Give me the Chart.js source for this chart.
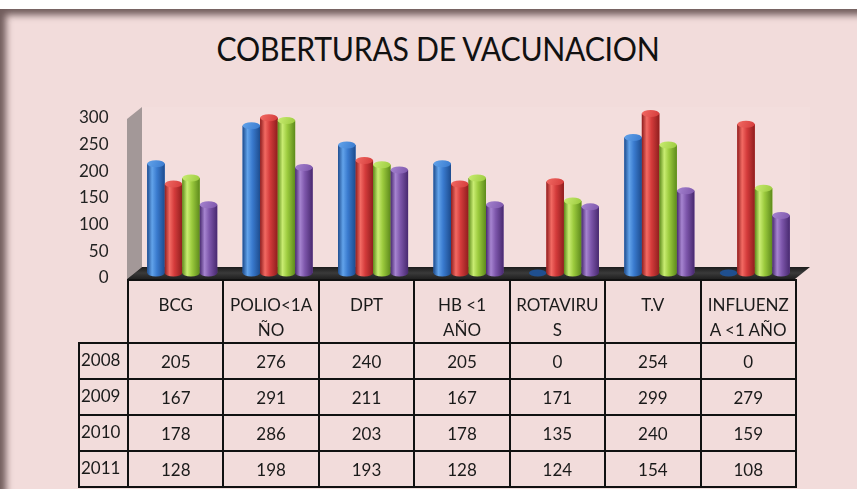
<!DOCTYPE html>
<html>
<head>
<meta charset="utf-8">
<script src="https://cdn.jsdelivr.net/npm/chart.js@4"></script>
<style>
  html, body { margin:0; padding:0; background:#ffffff; }
  #stage { position:relative; width:857px; height:491px; overflow:hidden; font-family: Lato, "Open Sans", sans-serif; }
  #panel { position:absolute; left:0; top:9px; width:857px; height:480px; background:#F2DCDB;
           box-shadow: inset 9px 9px 7px -3px rgba(70,50,50,0.75); }
  #title { position:absolute; top:32px; left:438px; transform:translateX(-50%) scaleX(0.915); white-space:nowrap;
           font-size:33px; line-height:1; color:#111; letter-spacing:-0.3px; }
  #cv { position:absolute; left:0; top:0; }
  #tbl { position:absolute; left:78px; top:279px; border-collapse:collapse; table-layout:fixed; color:#1a1a1a; font-size:17px; }
  #tbl td { border:2px solid #111; padding:0; text-align:center; vertical-align:middle; height:34px; box-sizing:content-box; }
  #tbl tr.head td { height:50px; vertical-align:top; padding-top:11px; line-height:25px; }
  #tbl td.corner { border:none; }
  #tbl td.year { text-align:left; padding-left:1px; padding-bottom:3px; height:31px; }
</style>
</head>
<body>
<div id="stage">
  <div id="panel"></div>
  <div id="title">COBERTURAS DE VACUNACION</div>
  <canvas id="cv" width="857" height="491"></canvas>
  <table id="tbl"></table>
</div>
<script>
// ---- data ----
const categories = [['BCG'], ['POLIO<1A', 'ÑO'], ['DPT'], ['HB <1', 'AÑO'], ['ROTAVIRU', 'S'], ['T.V'], ['INFLUENZ', 'A <1 AÑO']];
const years = ['2008', '2009', '2010', '2011'];
const v2008 = [205, 276, 240, 205, 0, 254, 0];
const v2009 = [167, 291, 211, 167, 171, 299, 279];
const v2010 = [178, 286, 203, 178, 135, 240, 159];
const v2011 = [128, 198, 193, 128, 124, 154, 108];
const yTicks = [0, 50, 100, 150, 200, 250, 300];

const seriesValues = [v2008, v2009, v2010, v2011];
const palette = [
  { mid:'#3A7BCF', light:'#62A3EA', dark:'#1D4C8E', cap:'#4F93E0' },
  { mid:'#D43B3B', light:'#F26A63', dark:'#8F1E1E', cap:'#E24B48' },
  { mid:'#9CCB3E', light:'#C9EC72', dark:'#5D8A1B', cap:'#B3DD52' },
  { mid:'#7D56AB', light:'#A684D0', dark:'#48296F', cap:'#8F69BE' }
];

// ---- 3D decoration + cylinders ----
const DX = 7.5, DY = 6;
function shade(ctx, x0, x1, c) {
  const g = ctx.createLinearGradient(x0, 0, x1, 0);
  g.addColorStop(0, c.dark);
  g.addColorStop(0.28, c.light);
  g.addColorStop(0.55, c.mid);
  g.addColorStop(1, c.dark);
  return g;
}
const cylPlugin = {
  id: 'cyl',
  beforeDatasetsDraw(chart) {
    const ctx = chart.ctx, a = chart.chartArea, ys = chart.scales.y;
    const top = ys.getPixelForValue(ys.max), base = ys.getPixelForValue(0);
    ctx.save();
    ctx.fillStyle = 'rgba(255,255,255,0.08)';
    ctx.fillRect(a.left + DX, top - DY, a.right - a.left, base - top);
    ctx.beginPath();
    ctx.moveTo(a.left - DX, top + DY);
    ctx.lineTo(a.left + DX, top - DY);
    ctx.lineTo(a.left + DX, base - DY);
    ctx.lineTo(a.left - DX, base + DY);
    ctx.closePath();
    ctx.fillStyle = '#A39898';
    ctx.fill();
    ctx.beginPath();
    ctx.moveTo(a.left - DX, base + DY);
    ctx.lineTo(a.right - DX, base + DY);
    ctx.lineTo(a.right + DX, base - DY);
    ctx.lineTo(a.left + DX, base - DY);
    ctx.closePath();
    const fg = ctx.createLinearGradient(0, base - DY, 0, base + DY);
    fg.addColorStop(0, '#1c1c1c');
    fg.addColorStop(0.5, '#3a3a3a');
    fg.addColorStop(1, '#202020');
    ctx.fillStyle = fg;
    ctx.fill();
    ctx.restore();
  },
  afterDatasetsDraw(chart) {
    const ctx = chart.ctx;
    chart.data.datasets.forEach((ds, di) => {
      const meta = chart.getDatasetMeta(di);
      const c = palette[di];
      meta.data.forEach((el, i) => {
        const p = el.getProps(['x', 'y', 'base', 'width'], true);
        const w = p.width, xl = p.x - w / 2, xr = p.x + w / 2, rx = w / 2, ry = w * 0.2;
        ctx.save();
        if (ds.data[i] === 0) {
          ctx.beginPath();
          ctx.ellipse(p.x, p.base, rx, ry, 0, 0, Math.PI * 2);
          ctx.fillStyle = '#1F4F8F';
          ctx.fill();
          ctx.restore();
          return;
        }
        ctx.beginPath();
        ctx.moveTo(xl, p.y);
        ctx.lineTo(xl, p.base);
        ctx.ellipse(p.x, p.base, rx, ry, 0, Math.PI, 0, true);
        ctx.lineTo(xr, p.y);
        ctx.closePath();
        ctx.fillStyle = shade(ctx, xl, xr, c);
        ctx.fill();
        ctx.beginPath();
        ctx.ellipse(p.x, p.y, rx, ry, 0, 0, Math.PI * 2);
        const cg = ctx.createLinearGradient(xl, p.y - ry, xr, p.y + ry);
        cg.addColorStop(0, c.light);
        cg.addColorStop(1, c.mid);
        ctx.fillStyle = cg;
        ctx.fill();
        ctx.restore();
      });
    });
  }
};

new Chart(document.getElementById('cv'), {
  type: 'bar',
  data: {
    labels: categories,
    datasets: seriesValues.map((vals, k) => ({
      label: years[k],
      data: vals,
      backgroundColor: palette[k].mid,
      borderWidth: 0,
      categoryPercentage: 0.734,
      barPercentage: 1.0
    }))
  },
  options: {
    responsive: false,
    animation: false,
    layout: { padding: { left: 0, right: 54.5, top: 113, bottom: 218 } },
    plugins: { legend: { display: false }, tooltip: { enabled: false }, title: { display: false } },
    scales: {
      x: { display: false },
      y: {
        min: 0, max: 300,
        afterFit(scale) { scale.width = 134.5; },
        afterBuildTicks(scale) { scale.ticks = yTicks.map(v => ({ value: v })); },
        grid: { display: false, drawTicks: false },
        border: { display: false },
        ticks: { padding: 26, labelOffset: 5, color: '#222', font: { family: 'Lato', size: 17 } }
      }
    }
  },
  plugins: [cylPlugin]
});

// ---- data table ----
const tbl = document.getElementById('tbl');
const cg = document.createElement('colgroup');
[49].concat(categories.map(() => 95.43)).forEach(w => {
  const col = document.createElement('col'); col.style.width = w + 'px'; cg.appendChild(col);
});
tbl.appendChild(cg);
const hr = document.createElement('tr'); hr.className = 'head';
const corner = document.createElement('td'); corner.className = 'corner'; hr.appendChild(corner);
categories.forEach(lines => {
  const td = document.createElement('td'); td.innerHTML = lines.map(s => s.replace(/</g, '&lt;')).join('<br>'); hr.appendChild(td);
});
tbl.appendChild(hr);
seriesValues.forEach((vals, k) => {
  const tr = document.createElement('tr');
  const yc = document.createElement('td'); yc.className = 'year'; yc.textContent = years[k]; tr.appendChild(yc);
  vals.forEach(v => { const td = document.createElement('td'); td.textContent = v; tr.appendChild(td); });
  tbl.appendChild(tr);
});
</script>
</body>
</html>
